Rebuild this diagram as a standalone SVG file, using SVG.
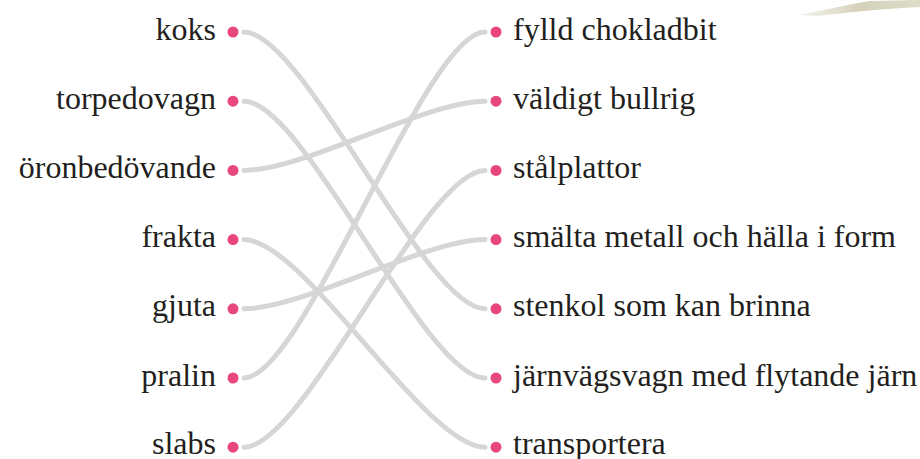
<svg xmlns="http://www.w3.org/2000/svg" width="920" height="459" viewBox="0 0 920 459">
<defs>
<linearGradient id="brush" x1="0" y1="0" x2="1" y2="0">
<stop offset="0" stop-color="#d9d7c0" stop-opacity="0.3"/>
<stop offset="0.5" stop-color="#c9c6a6" stop-opacity="0.8"/>
<stop offset="1" stop-color="#cfccb0" stop-opacity="0.7"/>
</linearGradient>
</defs>
<style>
text{font-size:32px;fill:#231f20}
.l{text-anchor:end}
.dot{fill:#e8467f}
.conn path{fill:none;stroke:#d6d6d6;stroke-width:5;stroke-linecap:round}
</style>
<path d="M798,15 C825,10 850,4 870,1 L920,0 L920,7 C880,9 850,12 818,16 Z" fill="url(#brush)"/>
<g class="conn">
<path d="M244,32 C304,32 425,308.8 485,308.8"/>
<path d="M244,101.2 C304,101.2 425,378 485,378"/>
<path d="M244,170.4 C304,170.4 425,101.2 485,101.2"/>
<path d="M244,239.6 C304,239.6 425,447.2 485,447.2"/>
<path d="M244,308.8 C304,308.8 425,239.6 485,239.6"/>
<path d="M244,378 C304,378 425,32 485,32"/>
<path d="M244,447.2 C304,447.2 425,170.4 485,170.4"/>
</g>
<g id="n-koks"><circle class="dot" cx="233" cy="32" r="5.5"/><text class="l" x="216" y="39.5" font-family="serif">koks</text></g>
<g id="n-torpedovagn"><circle class="dot" cx="233" cy="101.2" r="5.5"/><text class="l" x="216" y="108.7" font-family="serif">torpedovagn</text></g>
<g id="n-oronbedovande"><circle class="dot" cx="233" cy="170.4" r="5.5"/><text class="l" x="216" y="177.9" font-family="serif">öronbedövande</text></g>
<g id="n-frakta"><circle class="dot" cx="233" cy="239.6" r="5.5"/><text class="l" x="216" y="247.1" font-family="serif">frakta</text></g>
<g id="n-gjuta"><circle class="dot" cx="233" cy="308.8" r="5.5"/><text class="l" x="216" y="316.3" font-family="serif">gjuta</text></g>
<g id="n-pralin"><circle class="dot" cx="233" cy="378" r="5.5"/><text class="l" x="216" y="385.5" font-family="serif">pralin</text></g>
<g id="n-slabs"><circle class="dot" cx="233" cy="447.2" r="5.5"/><text class="l" x="216" y="454.2" font-family="serif">slabs</text></g>
<g id="n-fylld"><circle class="dot" cx="496" cy="32" r="5.5"/><text x="513" y="39.5" font-family="serif">fylld chokladbit</text></g>
<g id="n-valdigt"><circle class="dot" cx="496" cy="101.2" r="5.5"/><text x="513" y="108.7" font-family="serif">väldigt bullrig</text></g>
<g id="n-stalplattor"><circle class="dot" cx="496" cy="170.4" r="5.5"/><text x="513" y="177.9" font-family="serif">stålplattor</text></g>
<g id="n-smalta"><circle class="dot" cx="496" cy="239.6" r="5.5"/><text x="513" y="247.1" font-family="serif">smälta metall och hälla i form</text></g>
<g id="n-stenkol"><circle class="dot" cx="496" cy="308.8" r="5.5"/><text x="513" y="316.3" font-family="serif">stenkol som kan brinna</text></g>
<g id="n-jarnvagsvagn"><circle class="dot" cx="496" cy="378" r="5.5"/><text x="513" y="385.5" font-family="serif">järnvägsvagn med flytande järn</text></g>
<g id="n-transportera"><circle class="dot" cx="496" cy="447.2" r="5.5"/><text x="513" y="454.2" font-family="serif">transportera</text></g>
</svg>
